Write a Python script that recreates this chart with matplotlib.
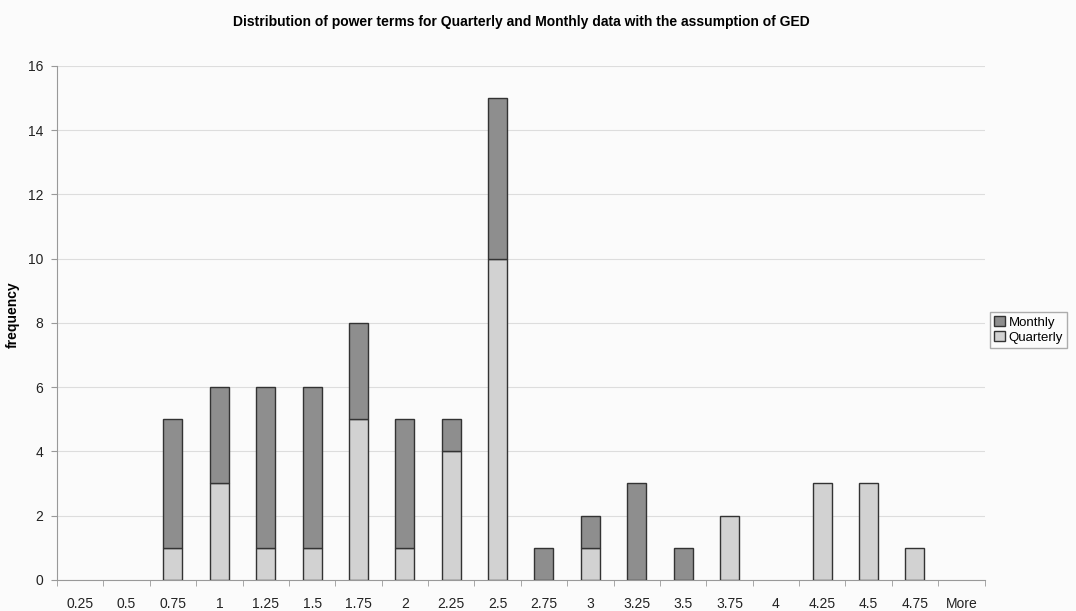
import numpy as np
import matplotlib.pyplot as plt

bins = ['0.25', '0.5', '0.75', '1', '1.25', '1.5', '1.75', '2', '2.25', '2.5',
        '2.75', '3', '3.25', '3.5', '3.75', '4', '4.25', '4.5', '4.75', 'More']
quarterly = np.array([0, 0, 1, 3, 1, 1, 5, 1, 4, 10, 0, 1, 0, 0, 2, 0, 3, 3, 1, 0])
monthly = np.array([0, 0, 4, 3, 5, 5, 3, 4, 1, 5, 1, 1, 3, 1, 0, 0, 0, 0, 0, 0])

plt.rcParams['font.family'] = ['Liberation Sans', 'DejaVu Sans']

fig = plt.figure(figsize=(10.76, 6.11), dpi=100)
fig.patch.set_facecolor('#fbfbfb')
ax = fig.add_axes([0.053, 0.051, 0.862, 0.841])
ax.set_facecolor('#fbfbfb')

x = np.arange(len(bins))
w = 0.41
# skip empty segments so no flat outlines appear at zero
q = quarterly > 0
m = monthly > 0
ax.bar(x[q], quarterly[q], w, color='#d2d2d2', edgecolor='#333333', linewidth=1.0,
       label='Quarterly', zorder=3)
ax.bar(x[m], monthly[m], w, bottom=quarterly[m], color='#8e8e8e', edgecolor='#333333',
       linewidth=1.0, label='Monthly', zorder=3)

ax.set_xlim(-0.5, len(bins) - 0.5)
ax.set_ylim(0, 16)
ax.set_yticks(range(0, 17, 2))
ax.set_xticks(x)
ax.set_xticklabels(bins)
ax.set_xticks(np.arange(-0.5, len(bins)), minor=True)
ax.tick_params(axis='x', which='major', length=0, pad=12, labelsize=10, labelcolor='#222222')
ax.tick_params(axis='x', which='minor', length=4, direction='out', color='#999999')
ax.tick_params(axis='y', length=4, direction='out', color='#999999', labelsize=10,
               labelcolor='#222222', pad=6)

ax.grid(axis='y', color='#dddddd', linewidth=0.8, zorder=0)
for side in ['top', 'right']:
    ax.spines[side].set_visible(False)
ax.spines['left'].set_color('#999999')
ax.spines['bottom'].set_color('#999999')

fig.text(0.012, 0.485, 'frequency', rotation=90, fontsize=10, fontweight='bold',
         ha='center', va='center')
fig.suptitle('Distribution of power terms for Quarterly and Monthly data with the assumption of GED',
             x=0.485, y=0.975, fontsize=10, fontweight='bold')

handles, labels = ax.get_legend_handles_labels()
leg = fig.legend(handles[::-1], labels[::-1], loc='center left',
                 bbox_to_anchor=(0.914, 0.46), fontsize=9.5, frameon=True,
                 handlelength=0.8, handleheight=0.8, handletextpad=0.3,
                 borderpad=0.3, labelspacing=0.2, fancybox=False)
leg.get_frame().set_edgecolor('#999999')
leg.get_frame().set_facecolor('#fbfbfb')

fig.savefig('out.png', dpi=100, facecolor=fig.get_facecolor())
